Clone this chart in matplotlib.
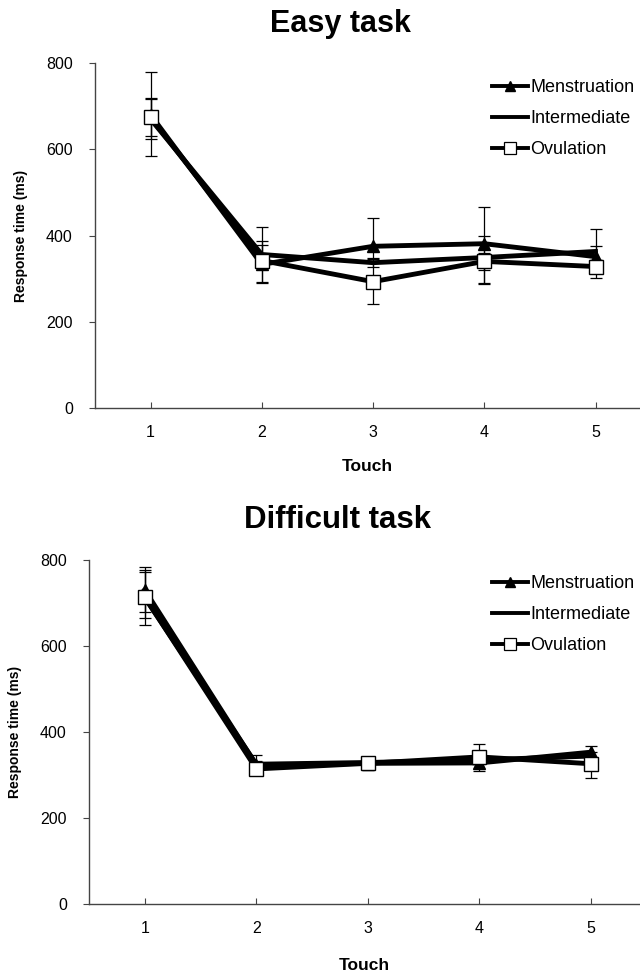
import numpy as np
import matplotlib.pyplot as plt
from matplotlib.lines import Line2D

plt.rcParams['font.family'] = ['Liberation Sans', 'DejaVu Sans']

touch = [1, 2, 3, 4, 5]
labels = ['Menstruation', 'Intermediate', 'Ovulation']

# easy task: mean response time (ms) and lower / upper error
easy_mens = [680, 333, 375, 381, 351]
easy_mens_lo = [95, 42, 30, 90, 24]
easy_mens_hi = [100, 44, 65, 84, 24]
easy_inter = [670, 356, 337, 349, 363]
easy_inter_lo = [47, 20, 10, 61, 20]
easy_inter_hi = [50, 32, 10, 49, 52]
easy_ovu = [674, 342, 293, 340, 328]
easy_ovu_lo = [44, 50, 51, 20, 26]
easy_ovu_hi = [42, 77, 45, 20, 15]

# difficult task
diff_mens = [730, 323, 327, 328, 353]
diff_mens_lo = [51, 10, 15, 18, 14]
diff_mens_hi = [54, 24, 15, 12, 14]
diff_inter = [712, 325, 329, 335, 344]
diff_inter_lo = [47, 8, 12, 10, 10]
diff_inter_hi = [65, 8, 12, 10, 10]
diff_ovu = [714, 314, 327, 342, 326]
diff_ovu_lo = [65, 8, 15, 12, 33]
diff_ovu_hi = [58, 8, 15, 30, 12]

fig = plt.figure(figsize=(6.4, 9.74), dpi=100)
ax1 = fig.add_axes([0.1484, 0.5811, 0.8516, 0.3542])
ax2 = fig.add_axes([0.1391, 0.0719, 0.8609, 0.3532])

styles = [dict(marker='^', markersize=9, markerfacecolor='black', markeredgecolor='black'),
          dict(marker=None),
          dict(marker='s', markersize=10, markerfacecolor='white', markeredgecolor='black',
               markeredgewidth=1.0)]
leg_styles = [dict(marker='^', markersize=7, markerfacecolor='black', markeredgecolor='black'),
              dict(marker=None),
              dict(marker='s', markersize=8, markerfacecolor='white', markeredgecolor='black',
                   markeredgewidth=0.9)]


def draw(ax, data, xlim, leg_y, xlabelpad):
    for (y, lo, hi), st, lab in zip(data, styles, labels):
        ax.errorbar(touch, y, yerr=[lo, hi], fmt='none', ecolor='black', elinewidth=0.9,
                    capsize=4, capthick=0.9, zorder=2)
        ax.plot(touch, y, color='black', linewidth=3.5, label=lab, zorder=3, **st)
    ax.set_xlim(*xlim)
    ax.set_ylim(0, 800)
    ax.set_xticks(touch)
    ax.set_yticks([0, 200, 400, 600, 800])
    ax.spines['top'].set_visible(False)
    ax.spines['right'].set_visible(False)
    for s in ['left', 'bottom']:
        ax.spines[s].set_color('#444444')
        ax.spines[s].set_linewidth(1.0)
    ax.tick_params(axis='y', direction='out', length=4, width=0.8, color='#444444',
                   labelsize=11.5, pad=12)
    ax.tick_params(axis='x', direction='in', length=4, width=0.8, color='#444444',
                   labelsize=11.5, pad=12)
    ax.set_ylabel('Response time (ms)', fontsize=10, fontweight='bold', labelpad=13)
    ax.set_xlabel('Touch', fontsize=12.5, fontweight='bold', labelpad=xlabelpad)
    handles = [Line2D([], [], color='black', linewidth=2.8, **st) for st in leg_styles]
    ax.legend(handles=handles, labels=labels, loc='upper left', bbox_to_anchor=(0.768, leg_y),
              bbox_transform=fig.transFigure, frameon=False, fontsize=13,
              handlelength=2.0, handletextpad=0.15, labelspacing=0.78, borderpad=0,
              borderaxespad=0)


draw(ax1, [(easy_mens, easy_mens_lo, easy_mens_hi),
           (easy_inter, easy_inter_lo, easy_inter_hi),
           (easy_ovu, easy_ovu_lo, easy_ovu_hi)], (0.5, 5.4), 1 - 79 / 974, 14)
draw(ax2, [(diff_mens, diff_mens_lo, diff_mens_hi),
           (diff_inter, diff_inter_lo, diff_inter_hi),
           (diff_ovu, diff_ovu_lo, diff_ovu_hi)], (0.5, 5.44), 1 - 575 / 974, 16)

fig.text(340 / 640, 1 - 24 / 974, 'Easy task', fontsize=22, fontweight='bold',
         ha='center', va='center')
fig.text(337 / 640, 1 - 520 / 974, 'Difficult task', fontsize=22.5, fontweight='bold',
         ha='center', va='center')

fig.savefig('out.png', dpi=100)
